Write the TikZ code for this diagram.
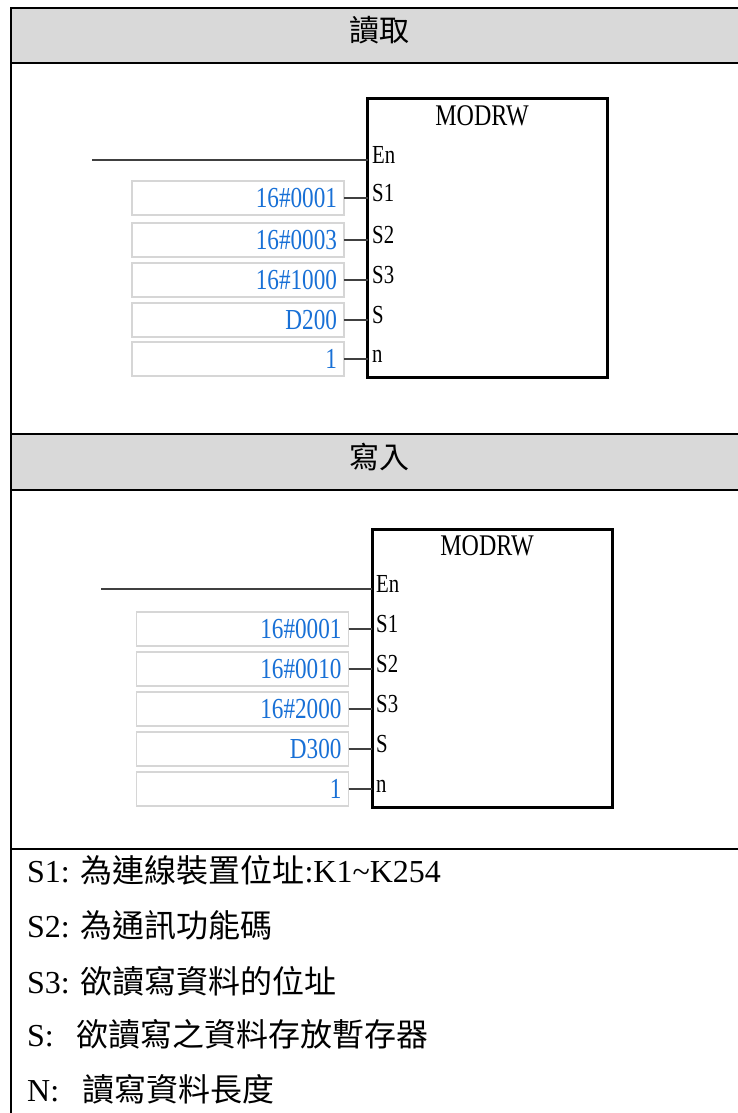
\documentclass[tikz,border=0pt]{standalone}
\usepackage{fontspec}
\setmainfont{Liberation Serif}
\newfontfamily\cjk{Noto Sans CJK TC}
\newfontfamily\fbfont[FakeStretch=0.8]{Liberation Serif}
\usepackage{tikz}
\usetikzlibrary{calc}
\definecolor{headgray}{RGB}{217,217,217}
\definecolor{valblue}{RGB}{24,112,214}
\definecolor{boxgray}{RGB}{214,214,214}

\begin{document}
\begin{tikzpicture}[x=1pt,y=-1pt,
  tableline/.style={black, line width=2.6pt},
  headtext/.style={inner sep=0pt, font=\cjk\fontsize{30}{36}\selectfont},
  fbbox/.style={draw=black, line width=3pt, minimum width=240pt, minimum height=278pt, inner sep=0pt, outer sep=0pt},
  fbtitle/.style={anchor=base, inner sep=0pt, font=\fbfont\fontsize{30}{36}\selectfont},
  pinlabel/.style={anchor=base west, inner sep=0pt, font=\fbfont\fontsize{26}{30}\selectfont},
  valbox/.style={draw=boxgray, line width=1.6pt, minimum width=212pt, minimum height=34pt, text width=198pt, inner xsep=7pt, inner ysep=0pt, align=right, outer sep=0pt, text=valblue, font=\fbfont\fontsize{29}{34}\selectfont},
  wire/.style={black!75, line width=1.6pt},
  desc/.style={anchor=base west, inner sep=0pt, font=\fontsize{32}{38}\selectfont}]
\useasboundingbox (0,0) rectangle (737,1113);
\fill[white] (0,0) rectangle (737,1113);

% table
\fill[headgray] (11,8) rectangle (740,63);
\fill[headgray] (11,434) rectangle (740,490);
\draw[tableline] (740,8) -- (11,8) -- (11,1120);
\draw[tableline] (11,63) -- (740,63);
\draw[tableline] (11,434) -- (740,434);
\draw[tableline] (11,490) -- (740,490);
\draw[tableline] (11,849) -- (740,849);
\node[headtext] (hdRead) at (379,30) {讀取};
\node[headtext] (hdWrite) at (379,457) {寫入};

% read block
\node[fbbox] (fbRead) at (487.5,238) {};
\node[fbtitle] (ttlRead) at (482,125) {MODRW};
\coordinate (enRead) at (92,160);
\draw[wire] (enRead) -- (enRead -| fbRead.west);
\node[pinlabel] (pinRead0) at (372,163) {En};
\node[valbox] (inRead1) at (238,198) {16\#0001};
\node[valbox] (inRead2) at (238,240) {16\#0003};
\node[valbox] (inRead3) at (238,280) {16\#1000};
\node[valbox] (inRead4) at (238,320) {D200};
\node[valbox] (inRead5) at (238,359) {1};
\draw[wire] (inRead1.east) -- (inRead1.east -| fbRead.west);
\draw[wire] (inRead2.east) -- (inRead2.east -| fbRead.west);
\draw[wire] (inRead3.east) -- (inRead3.east -| fbRead.west);
\draw[wire] (inRead4.east) -- (inRead4.east -| fbRead.west);
\draw[wire] (inRead5.east) -- (inRead5.east -| fbRead.west);
\node[pinlabel] (pinRead1) at (372,201) {S1};
\node[pinlabel] (pinRead2) at (372,243) {S2};
\node[pinlabel] (pinRead3) at (372,283) {S3};
\node[pinlabel] (pinRead4) at (372,323) {S};
\node[pinlabel] (pinRead5) at (372,362) {n};

% write block
\node[fbbox] (fbWrite) at (492,668) {};
\node[fbtitle] (ttlWrite) at (487,555) {MODRW};
\coordinate (enWrite) at (101,589);
\draw[wire] (enWrite) -- (enWrite -| fbWrite.west);
\node[pinlabel] (pinWrite0) at (376,592) {En};
\node[valbox] (inWrite1) at (242.5,629) {16\#0001};
\node[valbox] (inWrite2) at (242.5,669) {16\#0010};
\node[valbox] (inWrite3) at (242.5,709) {16\#2000};
\node[valbox] (inWrite4) at (242.5,749) {D300};
\node[valbox] (inWrite5) at (242.5,789) {1};
\draw[wire] (inWrite1.east) -- (inWrite1.east -| fbWrite.west);
\draw[wire] (inWrite2.east) -- (inWrite2.east -| fbWrite.west);
\draw[wire] (inWrite3.east) -- (inWrite3.east -| fbWrite.west);
\draw[wire] (inWrite4.east) -- (inWrite4.east -| fbWrite.west);
\draw[wire] (inWrite5.east) -- (inWrite5.east -| fbWrite.west);
\node[pinlabel] (pinWrite1) at (376,632) {S1};
\node[pinlabel] (pinWrite2) at (376,672) {S2};
\node[pinlabel] (pinWrite3) at (376,712) {S3};
\node[pinlabel] (pinWrite4) at (376,752) {S};
\node[pinlabel] (pinWrite5) at (376,792) {n};

% operand notes
\node[desc] (descS1) at (27,882) {S1: {\cjk 為連線裝置位址}:K1\textasciitilde K254};
\node[desc] (descS2) at (27,937) {S2: {\cjk 為通訊功能碼}};
\node[desc] (descS3) at (27,993) {S3: {\cjk 欲讀寫資料的位址}};
\node[desc] (descS) at (27,1046) {S:\hspace{23pt}{\cjk 欲讀寫之資料存放暫存器}};
\node[desc] (descN) at (27,1101) {N:\hspace{23pt}{\cjk 讀寫資料長度}};
\end{tikzpicture}
\end{document}
